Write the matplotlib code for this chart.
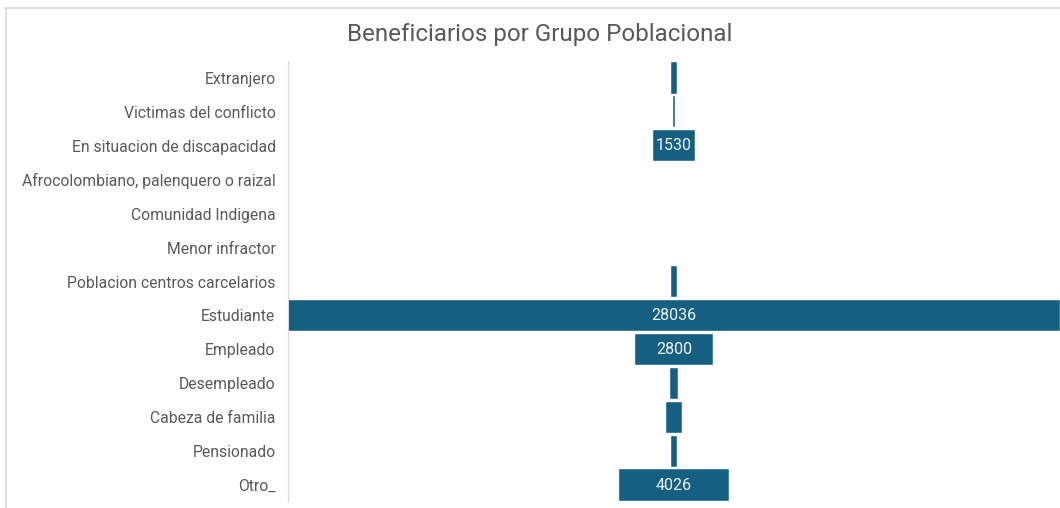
import numpy as np
import matplotlib.pyplot as plt
from matplotlib.patches import Rectangle

plt.rcParams['font.family'] = ['Roboto', 'DejaVu Sans']

# datos (embudo)
grupos = ['Extranjero', 'Victimas del conflicto', 'En situacion de discapacidad',
          'Afrocolombiano, palenquero o raizal', 'Comunidad Indigena', 'Menor infractor',
          'Poblacion centros carcelarios', 'Estudiante', 'Empleado', 'Desempleado',
          'Cabeza de familia', 'Pensionado', 'Otro_']
beneficiarios = [220, 40, 1530, 0, 0, 0, 220, 28036, 2800, 320, 560, 220, 4026]

color_barra = '#156082'
color_texto = '#595959'

fig = plt.figure(figsize=(10.6, 5.08), dpi=100)
ax = fig.add_axes([288 / 1060, 6 / 508, 772 / 1060, 441 / 508])

vals = np.array(beneficiarios, dtype=float)
y = np.arange(len(grupos))
ax.barh(y, vals, left=-vals / 2, height=0.92, color=color_barra,
        edgecolor='white', linewidth=0.3)

# etiquetas de datos solo donde caben
for yi, v in zip(y, beneficiarios):
    if v >= 1000:
        ax.text(0, yi, str(v), ha='center', va='center', color='#F2F2F2', fontsize=11.5)

maxv = vals.max()
ax.set_xlim(-maxv / 2, maxv / 2)
ax.set_ylim(len(grupos) - 0.5, -0.5)
ax.set_yticks(y)
ax.set_yticklabels(grupos, fontsize=11.3, color=color_texto)
ax.tick_params(axis='y', length=0, pad=9)
ax.set_xticks([])
for s in ['top', 'right', 'bottom']:
    ax.spines[s].set_visible(False)
ax.spines['left'].set_color('#D9D9D9')

fig.text(540 / 1060, 1 - 34 / 508, 'Beneficiarios por Grupo Poblacional',
         ha='center', va='center', fontsize=17.4, color=color_texto)

# marco del area del grafico
fig.add_artist(Rectangle((6 / 1060, -0.05), 1.2, 1 - 8 / 508 + 0.05,
                         transform=fig.transFigure, fill=False,
                         edgecolor='#D9D9D9', linewidth=1.2))

fig.savefig('out.png', dpi=100)
